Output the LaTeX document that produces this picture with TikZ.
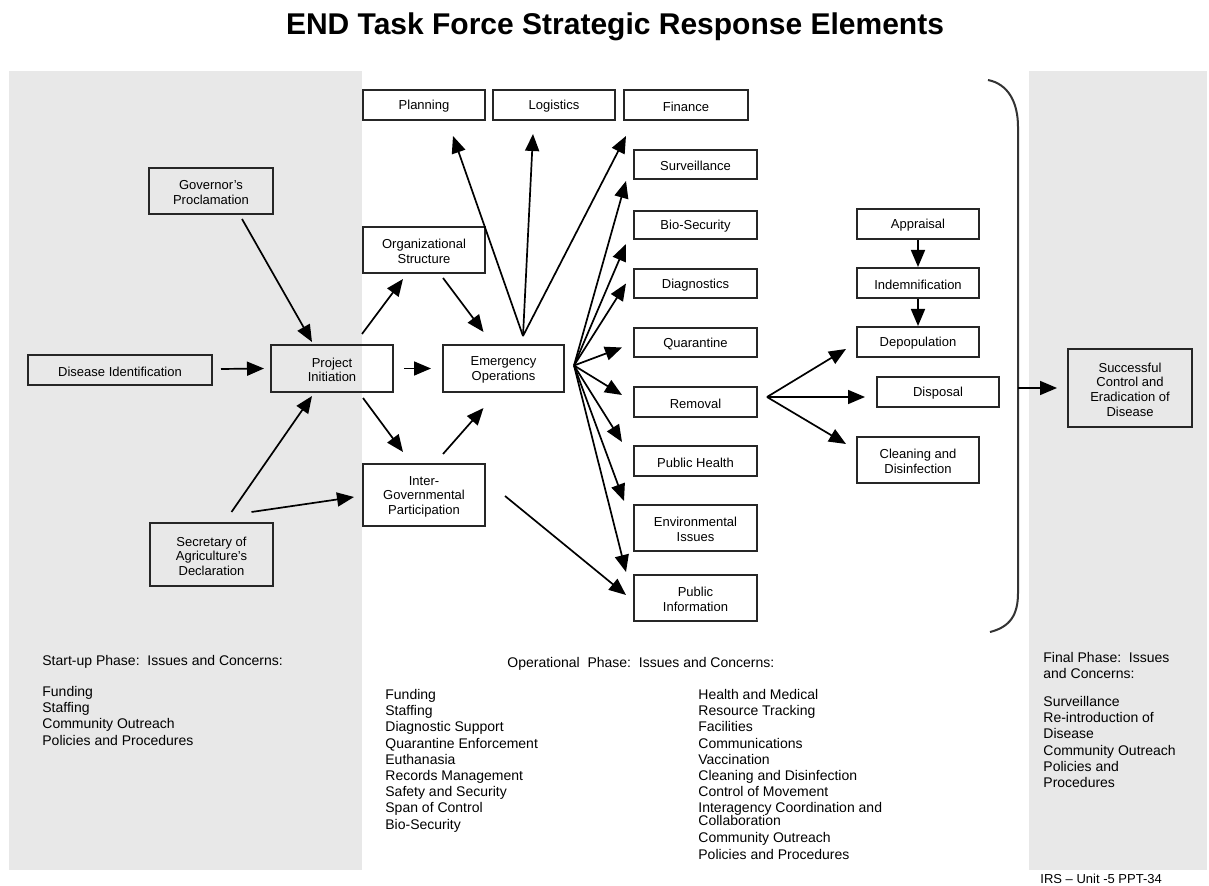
\documentclass[tikz,border=0pt]{standalone}
\usepackage{fontspec}
\setmainfont{Liberation Sans}
\usetikzlibrary{arrows.meta,calc}
\definecolor{panel}{HTML}{E8E8E8}
\tikzset{
 boxframe/.style={draw=black!85, line width=1pt, inner sep=0pt},
 boxtext/.style={inner sep=0pt, align=center, font=\fontsize{6.5}{7.3}\selectfont},
 arr/.style={line width=0.85pt, -{Triangle[length=8.5pt,width=7pt]}},
 lbl/.style={anchor=base west, align=left, inner sep=0pt, font=\fontsize{7}{8.1}\selectfont},
}
\newcommand\mybox[6]{%
 \pgfmathsetmacro\bxw{(#4-#2)*0.5}\pgfmathsetmacro\bxh{(#5-#3)*0.5}%
 \node[boxframe,minimum width=\bxw pt,minimum height=\bxh pt] (#1) at ({(#2+#4)/2},{(#3+#5)/2}) {};
 \node[boxtext] (#1t) at ($(#1.center)+(0,1.5)$) {#6};}
\begin{document}
\begin{tikzpicture}[x=0.5pt,y=-0.5pt]
\useasboundingbox (0,0) rectangle (1209,886);
\fill[panel] (9,71) rectangle (362,870);
\fill[panel] (1029,71) rectangle (1207,870);
\node[font=\bfseries\fontsize{15}{18}\selectfont] (title) at (615,27) {END Task Force Strategic Response Elements};

% boxes
\mybox{plan}{363}{90}{485}{120}{Planning}
\mybox{log}{493}{90}{615}{120}{Logistics}
\mybox{fin}{624}{90}{748}{120}{Finance}
\mybox{surv}{634}{150}{757}{179}{Surveillance}
\mybox{bio}{634}{211}{757}{239}{Bio-Security}
\mybox{diag}{634}{269}{757}{298}{Diagnostics}
\mybox{quar}{634}{328}{757}{357}{Quarantine}
\mybox{rem}{634}{387}{757}{417}{Removal}
\mybox{ph}{634}{446}{757}{476}{Public Health}
\mybox{env}{634}{505}{757}{551}{Environmental\\Issues}
\mybox{pi}{634}{575}{757}{621}{Public\\Information}
\mybox{emer}{443}{345}{564}{392}{Emergency\\Operations}
\mybox{org}{363}{227}{485}{273}{Organizational\\Structure}
\mybox{inter}{363}{464}{485}{526}{Inter-\\Governmental\\Participation}
\mybox{proj}{271}{345}{393}{392}{Project\\Initiation}
\mybox{dis}{28}{355}{212}{385}{Disease Identification}
\mybox{gov}{149}{168}{273}{214}{Governor's\\Proclamation}
\mybox{sec}{150}{523}{273}{586}{Secretary of\\Agriculture's\\Declaration}
\mybox{appr}{857}{209}{979}{239}{Appraisal}
\mybox{ind}{857}{268}{979}{298}{Indemnification}
\mybox{dep}{857}{327}{979}{357}{Depopulation}
\mybox{disp}{877}{377}{999}{407}{Disposal}
\mybox{clean}{857}{437}{979}{483}{Cleaning and\\Disinfection}
\mybox{succ}{1068}{349}{1192}{427}{Successful\\Control and\\Eradication of\\Disease}

% start-up arrows
\draw[arr] ($(gov.south)+(31,4)$) -- ($(proj.north)+(-20,-2)$);
\draw[arr] ($(dis.east)+(8,-1)$) -- ($(proj.west)+(-6,0)$);
\draw[arr] ($(sec.north)+(20,-10)$) -- ($(proj.south)+(-20,3)$);
\draw[arr] ($(sec.north)+(40,-10)$) -- ($(inter.west)+(-8,2)$);
\draw[arr] ($(proj.north)+(30,-10)$) -- ($(org.south)+(-21,5)$);
\draw[arr] ($(proj.east)+(10,0)$) -- ($(emer.west)+(-11,0)$);
\draw[arr] ($(proj.south)+(31,5)$) -- ($(inter.north)+(-21,-11)$);
\draw[arr] ($(org.south)+(19,4)$) -- ($(emer.north)+(-20,-12)$);
\draw[arr] ($(inter.north)+(19,-9)$) -- ($(emer.south)+(-20,15)$);
\draw[arr] ($(inter.east)+(19,1)$) -- ($(pi.west)+(-7,-3)$);

% emergency operations to sections
\coordinate (top) at ($(emer.north)+(19.5,-8)$);
\draw[arr] (top) -- ($(plan.south)+(29,15)$);
\draw[arr] (top) -- ($(log.south)+(-21,13)$);
\draw[arr] (top) -- ($(fin.south west)+(3,15)$);
\coordinate (fan) at ($(emer.east)+(9,-3)$);
\draw[arr] (fan) -- ($(surv.south west)+(-7,1)$);
\draw[arr] (fan) -- ($(bio.south west)+(-7,4)$);
\draw[arr] (fan) -- ($(diag.west)+(-7,0)$);
\draw[arr] (fan) -- ($(quar.west)+(-11,5)$);
\draw[arr] (fan) -- ($(rem.west)+(-11,-7)$);
\draw[arr] (fan) -- ($(ph.north west)+(-11,-3)$);
\draw[arr] (fan) -- ($(env.north west)+(-9,-3)$);
\draw[arr] (fan) -- ($(pi.north west)+(-7,-2)$);

% removal branch
\coordinate (rfan) at ($(rem.east)+(9,-5)$);
\draw[arr] (rfan) -- ($(dep.south west)+(-10,-9)$);
\draw[arr] (rfan) -- ($(disp.west)+(-11,5)$);
\draw[arr] (rfan) -- ($(clean.north west)+(-10,8)$);
\draw[arr] (appr.south) -- (ind.north);
\draw[arr] (ind.south) -- (dep.north);

% brace
\draw[line width=1pt, black!80] (988,80) .. controls (1008,84) and (1018,102) .. (1018,127) -- (1018,593) .. controls (1018,615) and (1010,627) .. (990,632);
\coordinate (br) at (1018,388);
\draw[arr] (br) -- ($(succ.west)+(-10,0)$);

% bottom texts
\node[lbl] (suh) at (42,665) {Start-up Phase:\ \ Issues and Concerns:};
\node[lbl, anchor=north west] (sul) at (42,686) {Funding\\Staffing\\Community Outreach\\Policies and Procedures};
\node[lbl] (oph) at (507,668) {Operational\ \ Phase:\ \ Issues and Concerns:};
\node[lbl, anchor=north west] (opl) at (385,689) {Funding\\Staffing\\Diagnostic Support\\Quarantine Enforcement\\Euthanasia\\Records Management\\Safety and Security\\Span of Control\\Bio-Security};
\node[lbl, anchor=north west] (opr) at (698,689) {Health and Medical\\Resource Tracking\\Facilities\\Communications\\Vaccination\\Cleaning and Disinfection\\Control of Movement\\Interagency Coordination and\\[-1.8pt]Collaboration\\[0.6pt]Community Outreach\\Policies and Procedures};
\node[lbl, anchor=north west] (fph) at (1043,652) {Final Phase:\ \ Issues\\and Concerns:};
\node[lbl, anchor=north west] (fpl) at (1043,696) {Surveillance\\Re-introduction of\\Disease\\Community Outreach\\Policies and\\Procedures};
\node[lbl, font=\fontsize{6.5}{7.5}\selectfont] (foot) at (1040,883) {IRS -- Unit -5 PPT-34};
\end{tikzpicture}
\end{document}
